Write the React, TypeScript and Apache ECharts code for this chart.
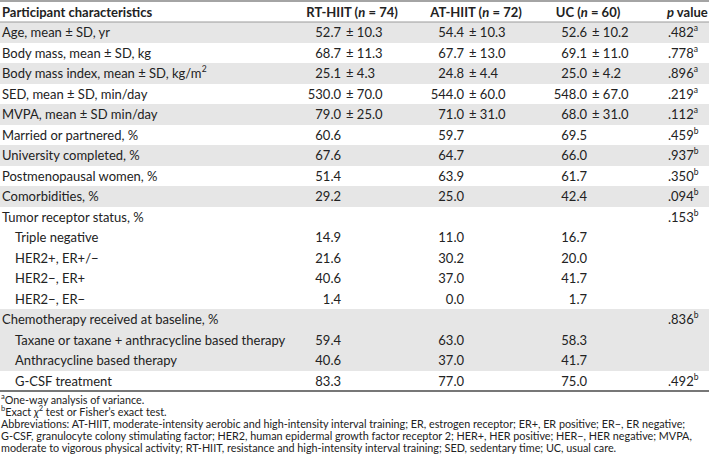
import React, { useEffect, useRef } from "react";
import * as echarts from "echarts";

const W = 709;
const H = 455;

const groupNames = ["RT-HIIT", "AT-HIIT", "UC"];
const groupN = [74, 72, 60];

const labels = [
  "Age, mean ± SD, yr",
  "Body mass, mean ± SD, kg",
  "Body mass index, mean ± SD, kg/m",
  "SED, mean ± SD, min/day",
  "MVPA, mean ± SD min/day",
  "Married or partnered, %",
  "University completed, %",
  "Postmenopausal women, %",
  "Comorbidities, %",
  "Tumor receptor status, %",
  "Triple negative",
  "HER2+, ER+/−",
  "HER2−, ER+",
  "HER2−, ER−",
  "Chemotherapy received at baseline, %",
  "Taxane or taxane + anthracycline based therapy",
  "Anthracycline based therapy",
  "G-CSF treatment",
];
const labelSup = ["", "", "2", "", "", "", "", "", "", "", "", "", "", "", "", "", "", ""];
const indent = [0, 0, 0, 0, 0, 0, 0, 0, 0, 0, 1, 1, 1, 1, 0, 1, 1, 1];
const shaded = [1, 0, 1, 0, 1, 0, 1, 0, 1, 0, 0, 0, 0, 0, 1, 1, 1, 0];

const rtMean = ["52.7", "68.7", "25.1", "530.0", "79.0", "60.6", "67.6", "51.4", "29.2", "", "14.9", "21.6", "40.6", "1.4", "", "59.4", "40.6", "83.3"];
const rtSD = ["10.3", "11.3", "4.3", "70.0", "25.0", "", "", "", "", "", "", "", "", "", "", "", "", ""];
const atMean = ["54.4", "67.7", "24.8", "544.0", "71.0", "59.7", "64.7", "63.9", "25.0", "", "11.0", "30.2", "37.0", "0.0", "", "63.0", "37.0", "77.0"];
const atSD = ["10.3", "13.0", "4.4", "60.0", "31.0", "", "", "", "", "", "", "", "", "", "", "", "", ""];
const ucMean = ["52.6", "69.1", "25.0", "548.0", "68.0", "69.5", "66.0", "61.7", "42.4", "", "16.7", "20.0", "41.7", "1.7", "", "58.3", "41.7", "75.0"];
const ucSD = ["10.2", "11.0", "4.2", "67.0", "31.0", "", "", "", "", "", "", "", "", "", "", "", "", ""];
const pValues = [".482", ".778", ".896", ".219", ".112", ".459", ".937", ".350", ".094", ".153", "", "", "", "", ".836", "", "", ".492"];
const pSup = ["a", "a", "a", "a", "a", "b", "b", "b", "b", "b", "", "", "", "", "b", "", "", "b"];

const footnotes = [
  "{fs|a}{f|One-way analysis of variance.}",
  "{fs|b}{f|Exact }{fi|χ}{fs|2}{f| test or Fisher’s exact test.}",
  "{f|Abbreviations: AT-HIIT, moderate-intensity aerobic and high-intensity interval training; ER, estrogen receptor; ER+, ER positive; ER−, ER negative;}",
  "{f|G-CSF, granulocyte colony stimulating factor; HER2, human epidermal growth factor receptor 2; HER+, HER positive; HER−, HER negative; MVPA,}",
  "{f|moderate to vigorous physical activity; RT-HIIT, resistance and high-intensity interval training; SED, sedentary time; UC, usual care.}",
];

const FONT = "Lato, 'Open Sans', sans-serif";
const TEXT = "#222222";
const SHADE = "#e6e6e6";
const FS = 13;
const FFS = 10.8;

export default function App() {
  const ref = useRef<HTMLDivElement>(null);
  useEffect(() => {
    document.body.style.margin = "0";
    const chart = echarts.init(ref.current!, null, { renderer: "svg" });
    const base = { fontFamily: FONT, fontSize: FS, fill: TEXT, lineHeight: 17 };
    const rich: any = {
      n: { ...base },
      b: { ...base, fontWeight: "bold" },
      bi: { ...base, fontWeight: "bold", fontStyle: "italic" },
      sup: { fontFamily: FONT, fontSize: 8.5, fill: TEXT, lineHeight: 8, verticalAlign: "top" },
      f: { fontFamily: FONT, fontSize: FFS, fill: TEXT, lineHeight: 13 },
      fi: { fontFamily: FONT, fontSize: FFS, fill: TEXT, lineHeight: 13, fontStyle: "italic" },
      fs: { fontFamily: FONT, fontSize: 7.5, fill: TEXT, lineHeight: 7, verticalAlign: "top" },
    };
    const txt = (x: number, y: number, text: string, align = "left") => ({
      type: "text",
      x,
      y,
      silent: true,
      style: { text, align, verticalAlign: "middle", rich, fontFamily: FONT, fontSize: FS, fill: TEXT },
    });

    const ROW_TOP = 22;
    const ROW_H = 20.5;
    const colRight = [341, 464, 587];
    const headerCenter = [352, 476, 588];
    const pX = 668;
    const g: any[] = [];

    labels.forEach((_, i) => {
      if (shaded[i]) {
        g.push({
          type: "rect",
          silent: true,
          shape: { x: 0, y: ROW_TOP + i * ROW_H, width: W, height: ROW_H + 0.6 },
          style: { fill: SHADE },
        });
      }
    });

    // header
    g.push(txt(2, 12, "{b|Participant characteristics}"));
    groupNames.forEach((name, c) => {
      g.push(txt(headerCenter[c], 12, `{b|${name} (}{bi|n}{b| = ${groupN[c]})}`, "center"));
    });
    g.push(txt(pX - 1, 12, "{bi|p}{b| value}"));

    const means = [rtMean, atMean, ucMean];
    const sds = [rtSD, atSD, ucSD];
    labels.forEach((lab, i) => {
      const yc = ROW_TOP + i * ROW_H + ROW_H / 2;
      const supPart = labelSup[i] ? `{sup|${labelSup[i]}}` : "";
      g.push(txt(indent[i] ? 15 : 2, yc, `{n|${lab}}${supPart}`));
      means.forEach((m, c) => {
        if (m[i]) g.push(txt(colRight[c], yc, `{n|${m[i]}}`, "right"));
        if (sds[c][i]) g.push(txt(colRight[c] + 5, yc, `{n|± ${sds[c][i]}}`));
      });
      if (pValues[i]) g.push(txt(pX, yc, `{n|${pValues[i]}}{sup|${pSup[i]}}`));
    });

    const bottomY = ROW_TOP + labels.length * ROW_H;
    g.push({ type: "line", silent: true, shape: { x1: 0, y1: 1, x2: W, y2: 1 }, style: { stroke: "#4a4a4a", lineWidth: 1.2 } });
    g.push({ type: "line", silent: true, shape: { x1: 0, y1: ROW_TOP, x2: W, y2: ROW_TOP }, style: { stroke: "#9a9a9a", lineWidth: 1 } });
    g.push({ type: "line", silent: true, shape: { x1: 0, y1: bottomY, x2: W, y2: bottomY }, style: { stroke: "#4a4a4a", lineWidth: 1.5 } });

    footnotes.forEach((f, k) => {
      g.push({
        type: "text",
        x: 1,
        y: bottomY + 8 + k * 12,
        silent: true,
        style: { text: f, align: "left", verticalAlign: "middle", rich, fontFamily: FONT, fontSize: FFS, fill: TEXT },
      });
    });

    chart.setOption({ animation: false, graphic: g });
    return () => chart.dispose();
  }, []);
  return <div ref={ref} style={{ width: W, height: H, background: "#fff" }} />;
}
